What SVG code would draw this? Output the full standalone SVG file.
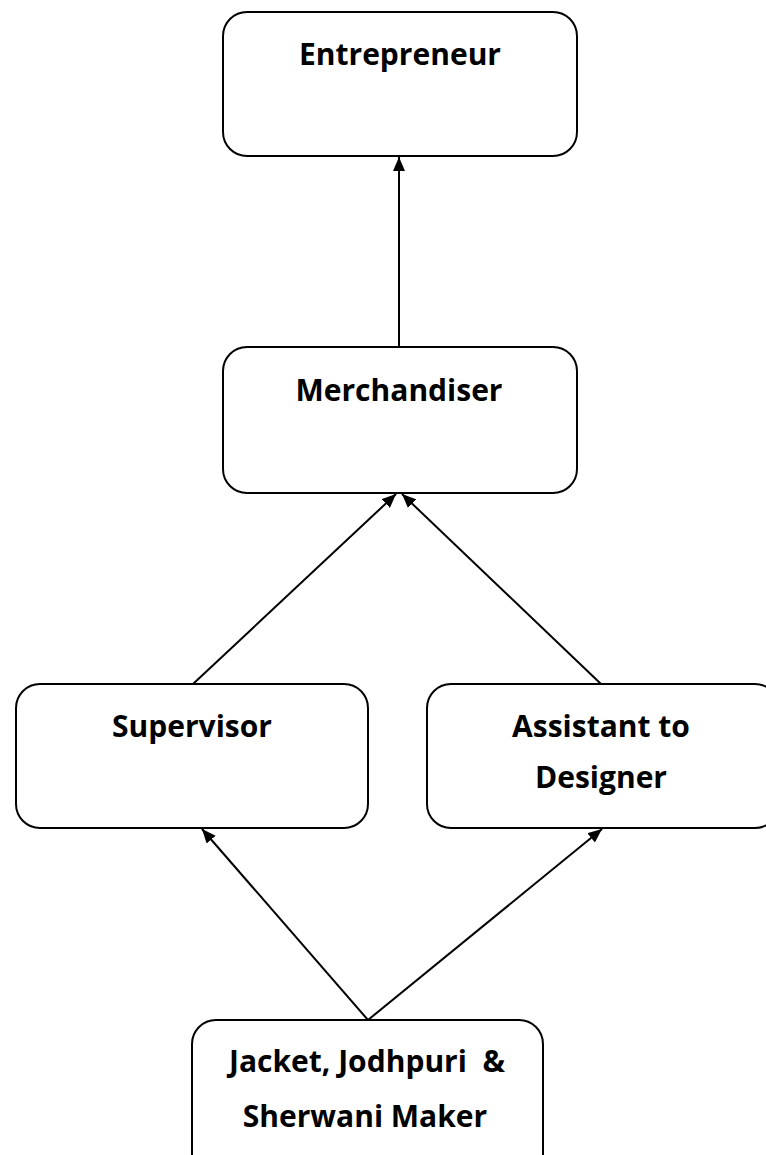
<svg xmlns="http://www.w3.org/2000/svg" width="766" height="1155" viewBox="0 0 766 1155">
<defs>
<marker id="ah" viewBox="0 0 14 12" refX="14" refY="6" markerWidth="14" markerHeight="12" markerUnits="userSpaceOnUse" orient="auto">
<path d="M0,0 L14,6 L0,12 Z" fill="#000"/>
</marker>
</defs>
<style>
.box{fill:#fff;stroke:#000;stroke-width:2}
.lbl{font-family:"Open Sans","Liberation Sans",sans-serif;font-weight:bold;font-size:30px;fill:#000;text-anchor:middle}
.con{stroke:#000;stroke-width:2;fill:none;marker-end:url(#ah)}
</style>
<rect width="766" height="1155" fill="#fff"/>
<g id="connectors">
<line class="con" x1="399" y1="347" x2="399" y2="157"/>
<line class="con" x1="193" y1="684" x2="396" y2="494"/>
<line class="con" x1="601" y1="684" x2="402" y2="494"/>
<line class="con" x1="368" y1="1020" x2="202" y2="829"/>
<line class="con" x1="368" y1="1020" x2="602" y2="829"/>
</g>
<g id="entrepreneur">
<rect class="box" x="223" y="12" width="354" height="144" rx="24"/>
<text class="lbl" x="400" y="65">Entrepreneur</text>
</g>
<g id="merchandiser">
<rect class="box" x="223" y="347" width="354" height="146" rx="24"/>
<text class="lbl" x="399" y="401">Merchandiser</text>
</g>
<g id="supervisor">
<rect class="box" x="16" y="684" width="352" height="144" rx="24"/>
<text class="lbl" x="192" y="737">Supervisor</text>
</g>
<g id="assistant">
<rect class="box" x="427" y="684" width="352" height="144" rx="24"/>
<text class="lbl" x="601" y="737">Assistant to</text>
<text class="lbl" x="601" y="788">Designer</text>
</g>
<g id="maker">
<rect class="box" x="192" y="1020" width="351" height="160" rx="24"/>
<text class="lbl" x="367" y="1072" xml:space="preserve">Jacket, Jodhpuri  &amp;</text>
<text class="lbl" x="365" y="1127">Sherwani Maker</text>
</g>
</svg>
